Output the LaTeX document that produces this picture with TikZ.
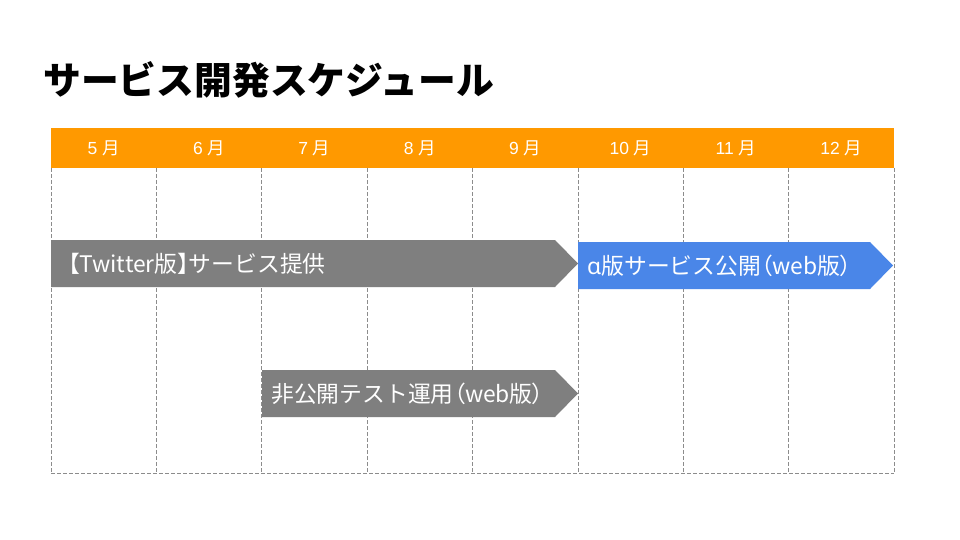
\documentclass[tikz,border=0pt]{standalone}
\usepackage{fontspec}
\setmainfont{Noto Sans CJK JP}
\newfontfamily\ns{Noto Sans}
\newfontfamily\lib{Liberation Sans}
\newfontfamily\jpp{Noto Sans CJK JP}[RawFeature=+palt]
\definecolor{hdrorange}{HTML}{FF9900}
\definecolor{bargray}{HTML}{7F7F7F}
\definecolor{barblue}{HTML}{4A86E8}
\definecolor{gridgray}{HTML}{8C8C8C}
\begin{document}
\begin{tikzpicture}[x=1pt,y=-1pt,
  gridline/.style={draw=gridgray,line width=0.7pt,dash pattern=on 4pt off 2pt},
  monthlbl/.style={text=white,font=\fontsize{17.5}{20}\selectfont,inner sep=0pt},
  barlbl/.style={text=white,font=\fontsize{22.8}{26}\selectfont,inner sep=0pt,anchor=west},
  titlelbl/.style={font=\bfseries\fontsize{37.8}{42}\selectfont,inner sep=0pt,anchor=west}]
\useasboundingbox (0,0) rectangle (960,540);
\fill[white] (0,0) rectangle (960,540);
% title
\node[titlelbl] (title) at (43,80) {サービス開発スケジュール};
% grid
\def\gx{51}\def\gw{105.375}
\foreach \i in {0,...,8}{
  \draw[gridline] ({\gx+\i*\gw},168) -- ({\gx+\i*\gw},473);
}
\draw[gridline] (\gx,473) -- (894,473);
% header
\fill[hdrorange] (51,128) rectangle (894,168);
\foreach \m [count=\i from 0] in {5,6,7,8,9,10,11,12}{
  \node[monthlbl] (m\m) at ({\gx+(\i+0.5)*\gw},148) {{\lib\m\ }月};
}
% bars
\fill[bargray] (51,240) -- (555,240) -- (578,263.5) -- (555,287) -- (51,287) -- cycle;
\node[barlbl] (twitter) at (68,263.5) {{\jpp 【}Twitter版{\jpp 】}サービス提供};
\fill[barblue] (578,242) -- (870,242) -- (893,265.5) -- (870,289) -- (578,289) -- cycle;
\node[barlbl] (alpha) at (587,265.5) {{\ns α}版サービス公開{\jpp （}web版{\jpp ）}};
\fill[bargray] (262,370) -- (555,370) -- (578,393.5) -- (555,417) -- (262,417) -- cycle;
\node[barlbl] (closed) at (271,393.5) {非公開テスト運用{\jpp （}web版{\jpp ）}};
\end{tikzpicture}
\end{document}
